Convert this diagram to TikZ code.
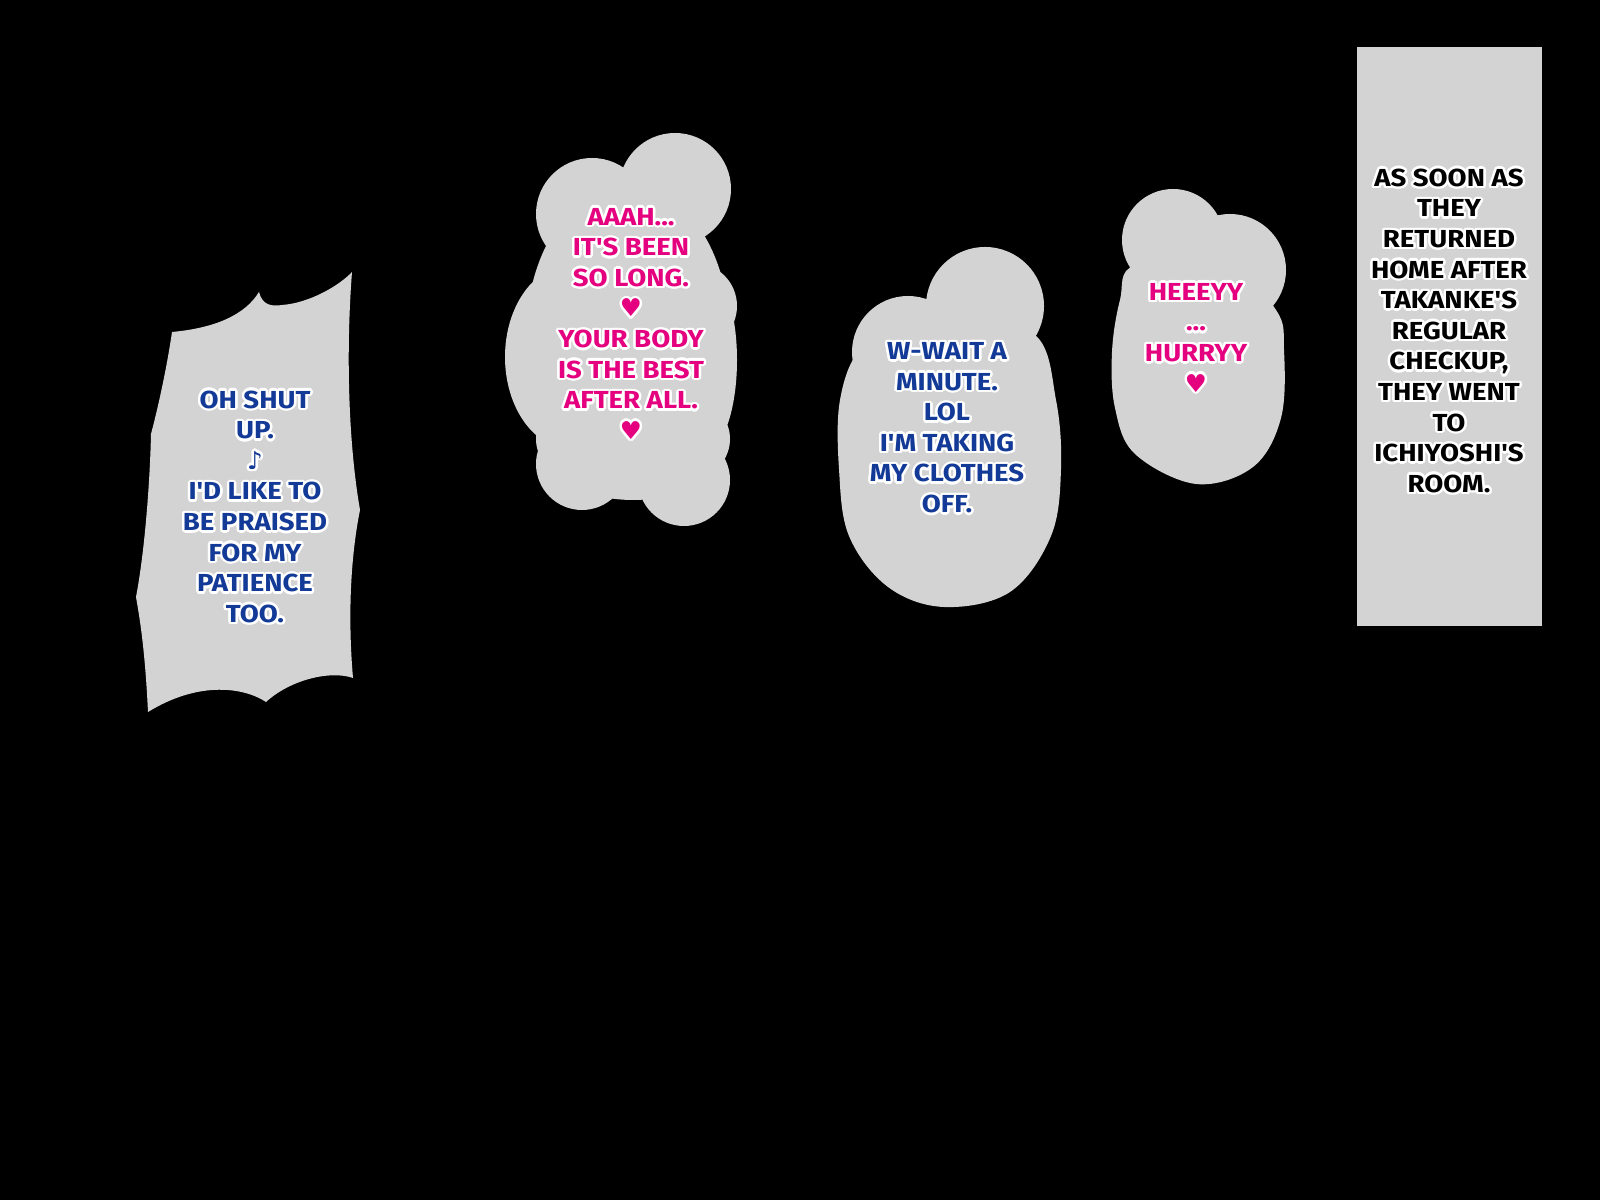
\documentclass[tikz,border=0pt]{standalone}
\usepackage{fontspec}
\usepackage{contour}
\usepackage{tikz}
\usetikzlibrary{positioning}
\newfontfamily\comicfont{Fira Sans}[FakeStretch=1.12]
\newfontfamily\symfont{DejaVu Sans}
\definecolor{bubblegrey}{RGB}{211,211,211}
\definecolor{sayblue}{RGB}{18,58,150}
\definecolor{saypink}{RGB}{228,0,127}
\contourlength{0.7pt}
\newcommand{\ol}[1]{\contour{white}{#1}}
\newcommand{\heart}{\ol{\symfont\char"2665}}
\newcommand{\note}{\ol{\symfont\char"266A}}
\tikzset{>=latex}

\begin{document}
\begin{tikzpicture}
[x=0.01cm, y=0.01cm,
 bubble/.style={fill=bubblegrey, draw=none},
 say/.style={align=center, inner sep=0pt, font=\comicfont\bfseries\fontsize{7}{8.7}\selectfont},
 blue say/.style={say, text=sayblue},
 pink say/.style={say, text=saypink},
 black say/.style={say, text=black}]
\useasboundingbox (0,0) rectangle (1600,1200);
\fill[black] (0,0) rectangle (1600,1200);

% jagged panel
\fill[bubble] (172,868) .. controls (215,872) and (245,885) .. (259,908)
  .. controls (262,896) and (270,893) .. (282,895)
  .. controls (310,897) and (340,915) .. (352,928)
  .. controls (346,850) and (348,760) .. (360,690)
  .. controls (350,640) and (348,580) .. (353,522)
  .. controls (330,530) and (290,520) .. (266,498)
  .. controls (245,512) and (200,520) .. (148,488)
  .. controls (145,550) and (140,580) .. (136,603)
  .. controls (145,650) and (150,720) .. (151,766)
  .. controls (160,800) and (168,840) .. (172,868) -- cycle;

% cloud 1
\fill[bubble] (675,1011) circle (56) (592,986) circle (56)
  (571,843) ellipse (66 and 92) (694,894) circle (43)
  (704,840) ellipse (33 and 92)
  (582,736) circle (46) (684,720) circle (46)
  (633,761) ellipse (97 and 61)
  (628,863) ellipse (102 and 153);

% cloud 2
\fill[bubble] (985,894) circle (59) (908,848) circle (56);
\fill[bubble] plot[smooth cycle, tension=0.6] coordinates {(860,850) (840,800)
  (839,731) (849,664) (888,613) (944,593) (1010,608) (1051,664) (1061,731)
  (1056,800) (1035,865) (960,880) (905,870)};

% cloud 3
\fill[bubble] (1173,960) circle (51) (1230,930) circle (56);
\fill[bubble] plot[smooth cycle, tension=0.6] coordinates {(1135,935)
  (1120,900) (1112,848) (1115,792) (1135,746) (1196,716) (1253,733)
  (1281,782) (1284,850) (1276,890) (1224,940)};

% caption box
\fill[bubble] (1357,574) rectangle (1542,1153);

\node[blue say] (shut) at (255,692)
  {\ol{OH SHUT}\\ \ol{UP.}\\ \note\\ \ol{I'D LIKE TO}\\ \ol{BE PRAISED}\\ \ol{FOR MY}\\ \ol{PATIENCE}\\ \ol{TOO.}};
\node[pink say] (aaah) at (631,875)
  {\ol{AAAH...}\\ \ol{IT'S BEEN}\\ \ol{SO LONG.}\\ \heart\\ \ol{YOUR BODY}\\ \ol{IS THE BEST}\\ \ol{AFTER ALL.}\\ \heart};
\node[blue say] (wait) at (947,771)
  {\ol{W-WAIT A}\\ \ol{MINUTE.}\\ \ol{LOL}\\ \ol{I'M TAKING}\\ \ol{MY CLOTHES}\\ \ol{OFF.}};
\node[pink say] (hurry) at (1196,861)
  {\ol{HEEEYY}\\ \ol{...}\\ \ol{HURRYY}\\ \heart};
\node[black say] (caption) at (1449,868)
  {\ol{AS SOON AS}\\ \ol{THEY}\\ \ol{RETURNED}\\ \ol{HOME AFTER}\\ \ol{TAKANKE'S}\\ \ol{REGULAR}\\ \ol{CHECKUP,}\\ \ol{THEY WENT}\\ \ol{TO}\\ \ol{ICHIYOSHI'S}\\ \ol{ROOM.}};
\end{tikzpicture}
\end{document}
